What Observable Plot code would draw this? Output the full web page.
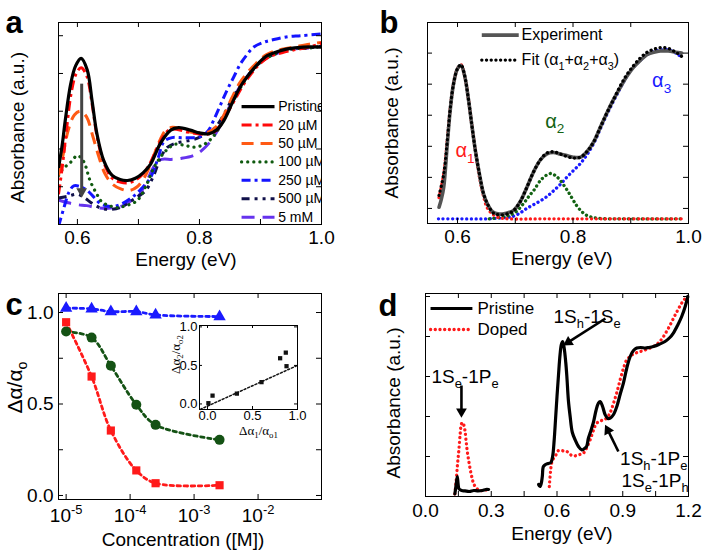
<!DOCTYPE html>
<html><head><meta charset="utf-8">
<script src="https://cdn.jsdelivr.net/npm/d3@7"></script>
<script src="https://cdn.jsdelivr.net/npm/@observablehq/plot@0.6"></script>
<style>
html,body{margin:0;padding:0;background:#fff}
#root{position:relative;width:706px;height:552px;overflow:hidden;background:#fff;font-family:"Liberation Sans",Arial,sans-serif}
#root > div{position:absolute}
</style></head><body><div id="root">
<div id="pa" style="left:0;top:0"></div>
<div id="pb" style="left:353px;top:0"></div>
<div id="pc" style="left:0;top:276px"></div>
<div id="pd" style="left:353px;top:276px"></div>
<div id="pi" style="left:160px;top:318px"></div>
</div>
<script>
// ---------------- DATA ----------------
// Panel a : absorbance vs energy (eV) for increasing dopant concentration
const a_pristine = [[0.569,0.30],[0.575,0.42],[0.580,0.55],[0.589,0.745],[0.597,0.84],[0.606,0.88],[0.616,0.82],[0.624,0.656],[0.632,0.48],[0.643,0.34],[0.657,0.26],[0.670,0.238],[0.682,0.233],[0.695,0.245],[0.708,0.275],[0.720,0.32],[0.736,0.43],[0.753,0.50],[0.766,0.513],[0.785,0.50],[0.800,0.485],[0.815,0.48],[0.828,0.50],[0.840,0.55],[0.856,0.66],[0.868,0.735],[0.884,0.806],[0.897,0.855],[0.911,0.894],[0.927,0.915],[0.944,0.93],[0.970,0.94],[1.0,0.94]];
const a_20uM = [[0.569,0.16],[0.575,0.30],[0.582,0.50],[0.590,0.70],[0.598,0.80],[0.606,0.83],[0.615,0.79],[0.624,0.64],[0.632,0.47],[0.643,0.33],[0.657,0.245],[0.670,0.225],[0.682,0.22],[0.695,0.235],[0.708,0.27],[0.720,0.33],[0.736,0.44],[0.750,0.50],[0.762,0.505],[0.780,0.49],[0.800,0.48],[0.815,0.48],[0.828,0.50],[0.840,0.56],[0.856,0.65],[0.870,0.73],[0.885,0.80],[0.900,0.855],[0.915,0.89],[0.935,0.91],[0.955,0.925],[0.980,0.94],[1.0,0.96]];
const a_50uM = [[0.569,0.26],[0.576,0.36],[0.585,0.50],[0.595,0.58],[0.605,0.60],[0.615,0.57],[0.625,0.47],[0.635,0.36],[0.645,0.27],[0.657,0.215],[0.670,0.19],[0.685,0.18],[0.698,0.20],[0.710,0.25],[0.720,0.32],[0.733,0.43],[0.745,0.50],[0.756,0.515],[0.770,0.505],[0.785,0.49],[0.800,0.485],[0.815,0.49],[0.828,0.52],[0.840,0.58],[0.853,0.67],[0.866,0.75],[0.880,0.81],[0.895,0.86],[0.910,0.90],[0.930,0.925],[0.955,0.94],[0.980,0.955],[1.0,0.965]];
const a_100uM = [[0.569,0.26],[0.575,0.29],[0.589,0.33],[0.600,0.365],[0.610,0.335],[0.621,0.23],[0.632,0.16],[0.640,0.12],[0.652,0.10],[0.665,0.09],[0.680,0.10],[0.698,0.127],[0.714,0.216],[0.725,0.30],[0.736,0.356],[0.748,0.40],[0.760,0.425],[0.775,0.42],[0.790,0.41],[0.805,0.42],[0.818,0.45],[0.830,0.50],[0.843,0.58],[0.856,0.66],[0.870,0.74],[0.885,0.81],[0.900,0.86],[0.915,0.89],[0.935,0.915],[0.955,0.93],[0.980,0.935],[1.0,0.945]];
const a_250uM = [[0.569,-0.01],[0.578,0.09],[0.586,0.17],[0.594,0.205],[0.605,0.20],[0.616,0.18],[0.627,0.145],[0.638,0.11],[0.654,0.095],[0.670,0.105],[0.690,0.145],[0.705,0.19],[0.720,0.25],[0.732,0.35],[0.742,0.44],[0.755,0.46],[0.770,0.46],[0.790,0.46],[0.805,0.47],[0.815,0.50],[0.823,0.55],[0.834,0.63],[0.845,0.71],[0.856,0.78],[0.867,0.85],[0.878,0.90],[0.889,0.94],[0.905,0.965],[0.922,0.98],[0.945,0.995],[0.966,1.0],[1.0,1.01]];
const a_500uM = [[0.569,0.14],[0.585,0.15],[0.600,0.16],[0.612,0.14],[0.625,0.11],[0.640,0.085],[0.655,0.08],[0.670,0.09],[0.688,0.125],[0.700,0.15],[0.712,0.18],[0.725,0.26],[0.737,0.36],[0.748,0.41],[0.760,0.43],[0.775,0.44],[0.790,0.45],[0.805,0.47],[0.818,0.49],[0.830,0.53],[0.843,0.60],[0.856,0.68],[0.870,0.75],[0.885,0.81],[0.900,0.86],[0.915,0.89],[0.935,0.92],[0.955,0.93],[0.980,0.935],[1.0,0.945]];
const a_5mM = [[0.569,0.13],[0.585,0.115],[0.600,0.105],[0.615,0.10],[0.630,0.09],[0.645,0.085],[0.660,0.09],[0.675,0.10],[0.690,0.13],[0.700,0.15],[0.714,0.233],[0.728,0.32],[0.738,0.345],[0.755,0.345],[0.770,0.35],[0.790,0.365],[0.803,0.39],[0.818,0.44],[0.830,0.50],[0.843,0.58],[0.856,0.67],[0.870,0.75],[0.885,0.81],[0.900,0.86],[0.915,0.89],[0.935,0.915],[0.955,0.93],[0.980,0.935],[1.0,0.945]];
const a_labels = ["Pristine","20 µM","50 µM","100 µM","250 µM","500 µM","5 mM"];

// Panel b : experiment, fit and its three components
const b_experiment = [[0.568,0.008],[0.572,0.06],[0.576,0.135],[0.582,0.40],[0.587,0.62],[0.593,0.80],[0.600,0.90],[0.606,0.92],[0.612,0.86],[0.619,0.70],[0.625,0.53],[0.631,0.37],[0.638,0.22],[0.645,0.095],[0.653,0.02],[0.662,-0.025],[0.670,-0.035],[0.680,-0.035],[0.690,-0.025],[0.697,-0.013],[0.708,0.04],[0.720,0.135],[0.731,0.23],[0.743,0.31],[0.754,0.35],[0.766,0.36],[0.778,0.35],[0.789,0.34],[0.800,0.33],[0.813,0.33],[0.825,0.37],[0.836,0.43],[0.847,0.52],[0.858,0.61],[0.870,0.70],[0.882,0.78],[0.893,0.85],[0.905,0.91],[0.917,0.955],[0.928,0.99],[0.940,1.005],[0.951,1.013],[0.965,1.013],[0.978,1.005],[0.988,1.0]];
const b_fit = [[0.568,0.084],[0.576,0.22],[0.582,0.43],[0.587,0.63],[0.593,0.80],[0.600,0.90],[0.606,0.925],[0.612,0.86],[0.619,0.70],[0.625,0.53],[0.631,0.37],[0.638,0.22],[0.645,0.095],[0.653,0.02],[0.662,-0.03],[0.670,-0.04],[0.680,-0.04],[0.690,-0.03],[0.697,-0.015],[0.708,0.04],[0.720,0.135],[0.731,0.23],[0.743,0.31],[0.754,0.355],[0.766,0.365],[0.778,0.35],[0.789,0.335],[0.800,0.325],[0.813,0.33],[0.825,0.37],[0.836,0.43],[0.847,0.52],[0.858,0.61],[0.870,0.70],[0.882,0.79],[0.893,0.86],[0.905,0.92],[0.917,0.97],[0.928,1.005],[0.940,1.025],[0.952,1.035],[0.965,1.03],[0.978,1.005],[0.989,0.976]];
const b_alpha1 = [[0.568,0.07],[0.576,0.22],[0.582,0.43],[0.587,0.63],[0.593,0.80],[0.600,0.90],[0.606,0.925],[0.612,0.86],[0.619,0.70],[0.625,0.53],[0.631,0.37],[0.638,0.20],[0.645,0.08],[0.651,0.008],[0.660,-0.035],[0.672,-0.06],[0.690,-0.067],[0.750,-0.067],[0.850,-0.067],[0.989,-0.067]];
const b_alpha2 = [[0.655,-0.067],[0.685,-0.05],[0.700,-0.025],[0.714,0.03],[0.724,0.08],[0.732,0.116],[0.746,0.19],[0.761,0.225],[0.770,0.21],[0.778,0.18],[0.792,0.105],[0.806,0.02],[0.815,-0.02],[0.824,-0.045],[0.840,-0.062],[0.900,-0.067],[0.989,-0.067]];
const b_alpha3 = [[0.567,-0.067],[0.600,-0.067],[0.650,-0.067],[0.680,-0.06],[0.697,-0.05],[0.710,-0.025],[0.720,0.0],[0.732,0.025],[0.744,0.05],[0.756,0.08],[0.767,0.116],[0.778,0.155],[0.789,0.2],[0.801,0.245],[0.813,0.29],[0.825,0.35],[0.836,0.42],[0.847,0.51],[0.858,0.60],[0.870,0.69],[0.882,0.775],[0.893,0.85],[0.905,0.91],[0.917,0.955],[0.928,0.99],[0.940,1.01],[0.952,1.02],[0.965,1.02],[0.978,1.0],[0.989,0.97]];

// Panel c : normalised bleach vs concentration (M)
const c_conc = [1e-5, 2.5e-5, 5e-5, 1.25e-4, 2.5e-4, 2.5e-3];
const c_alpha1 = [0.947, 0.65, 0.355, 0.137, 0.067, 0.056];
const c_alpha2 = [0.896, 0.863, 0.709, 0.496, 0.386, 0.304];
const c_alpha3 = [1.024, 1.02, 1.005, 1.005, 0.987, 0.978];
// inset
const i_x = [0.01, 0.056, 0.326, 0.60, 0.807, 0.87, 0.878];
const i_y = [0.01, 0.108, 0.134, 0.283, 0.593, 0.666, 0.49];
const i_lineX = [-0.08, 1.0];
const i_lineY = [-0.07, 0.5];

// Panel d : pristine vs doped, wide energy range
const d_pristineLow = [[0.134,0.013],[0.140,0.06],[0.145,0.10],[0.149,0.06],[0.153,0.038],[0.165,0.03],[0.180,0.028],[0.200,0.025],[0.220,0.03],[0.240,0.028],[0.260,0.03],[0.275,0.035],[0.288,0.035]];
const d_pristineHigh = [[0.516,0.06],[0.522,0.05],[0.528,0.065],[0.533,0.10],[0.538,0.15],[0.548,0.16],[0.560,0.165],[0.572,0.17],[0.580,0.20],[0.587,0.28],[0.593,0.38],[0.600,0.50],[0.607,0.61],[0.614,0.71],[0.620,0.76],[0.626,0.775],[0.633,0.74],[0.640,0.67],[0.645,0.60],[0.652,0.48],[0.660,0.40],[0.670,0.32],[0.683,0.283],[0.698,0.25],[0.713,0.233],[0.725,0.24],[0.735,0.25],[0.743,0.29],[0.751,0.317],[0.766,0.37],[0.778,0.43],[0.789,0.467],[0.797,0.475],[0.808,0.45],[0.820,0.408],[0.832,0.39],[0.843,0.392],[0.858,0.41],[0.873,0.45],[0.888,0.51],[0.903,0.567],[0.918,0.64],[0.934,0.70],[0.949,0.73],[0.964,0.742],[0.982,0.745],[1.002,0.742],[1.020,0.745],[1.040,0.75],[1.065,0.76],[1.093,0.775],[1.115,0.795],[1.131,0.817],[1.150,0.855],[1.169,0.90],[1.185,0.95],[1.197,1.0]];
const d_dopedLow = [[0.134,0.013],[0.140,0.08],[0.146,0.16],[0.152,0.23],[0.158,0.31],[0.163,0.36],[0.168,0.37],[0.174,0.36],[0.180,0.33],[0.185,0.28],[0.190,0.23],[0.197,0.18],[0.205,0.13],[0.213,0.09],[0.220,0.063],[0.234,0.04],[0.248,0.03],[0.265,0.03],[0.286,0.035]];
const d_dopedHigh = [[0.565,0.05],[0.570,0.12],[0.576,0.17],[0.584,0.19],[0.592,0.20],[0.600,0.22],[0.607,0.23],[0.620,0.23],[0.635,0.226],[0.645,0.225],[0.660,0.21],[0.675,0.203],[0.690,0.205],[0.705,0.21],[0.721,0.217],[0.736,0.245],[0.751,0.283],[0.766,0.33],[0.781,0.367],[0.795,0.375],[0.804,0.38],[0.815,0.385],[0.827,0.392],[0.843,0.42],[0.858,0.467],[0.873,0.52],[0.888,0.583],[0.903,0.64],[0.918,0.683],[0.934,0.70],[0.949,0.713],[0.972,0.722],[0.995,0.73],[1.020,0.74],[1.040,0.75],[1.065,0.77],[1.086,0.80],[1.110,0.845],[1.131,0.89],[1.150,0.93],[1.169,0.967],[1.192,1.0]];

// ---------------- HELPERS ----------------
const FONT = '"Liberation Sans", Arial, sans-serif';
const SVGNS = "http://www.w3.org/2000/svg";
function richify(root) {
  root.querySelectorAll("text").forEach(t => {
    const els = t.querySelector("tspan") ? Array.from(t.querySelectorAll("tspan")) : [t];
    els.forEach(el => {
      const s = el.textContent;
      if (!/[_^]/.test(s)) return;
      const fs = parseFloat(getComputedStyle(el).fontSize) || 16;
      while (el.firstChild) el.removeChild(el.firstChild);
      const re = /([_^])\{([^}]*)\}|([_^])(.)|([^_^]+)/g;
      let m, shift = 0;
      while ((m = re.exec(s))) {
        const ts = document.createElementNS(SVGNS, "tspan");
        if (m[5] !== undefined) {
          ts.textContent = m[5];
          if (shift) ts.setAttribute("dy", (-shift).toFixed(2));
          shift = 0;
        } else {
          const kind = m[1] || m[3];
          const txt = m[2] !== undefined ? m[2] : m[4];
          const target = kind === "_" ? fs * 0.28 : -fs * 0.42;
          ts.setAttribute("dy", (target - shift).toFixed(2));
          ts.setAttribute("font-size", (fs * 0.68).toFixed(2));
          shift = target;
          ts.textContent = txt;
        }
        el.appendChild(ts);
      }
    });
  });
}
function boxTicks(xt, yt, fw, fh, len = 5) {
  const o = {stroke: "black", strokeWidth: 1};
  return [
    Plot.tickX(xt, {x: d => d, insetTop: fh - len, ...o}),
    Plot.tickX(xt, {x: d => d, insetBottom: fh - len, ...o}),
    Plot.tickY(yt, {y: d => d, insetRight: fw - len, ...o}),
    Plot.tickY(yt, {y: d => d, insetLeft: fw - len, ...o})
  ];
}
const XY = {x: d => d[0], y: d => d[1]};
function mount(id, svg) { document.getElementById(id).appendChild(svg); richify(svg); }
function head(data, opts) { return Plot.dot(data, {x: "x2", y: "y2", symbol: "triangle", r: 4, rotate: "rot", ...opts}); }
const ylab = {frameAnchor: "left", rotate: -90, lineAnchor: "bottom", textAnchor: "middle"};

// ---------------- PANEL A ----------------
{
  const series = [
    {data: a_pristine, stroke: "#000000", dash: null, w: 3.2},
    {data: a_20uM, stroke: "#ff0a0a", dash: "10,4,3,4", w: 3},
    {data: a_50uM, stroke: "#ff5a14", dash: "12,7", w: 3},
    {data: a_100uM, stroke: "#0f5a0f", dash: "0.1,6", w: 3.2, cap: "round"},
    {data: a_250uM, stroke: "#1414ff", dash: "9,4,3,4", w: 3},
    {data: a_500uM, stroke: "#10104a", dash: "8,5,3,5,3,5", w: 3},
    {data: a_5mM, stroke: "#6633ee", dash: "13,8", w: 3}
  ];
  const fw = 263, fh = 202;
  const marks = [];
  series.slice().reverse().forEach(s => marks.push(Plot.line(s.data, {...XY, curve: "catmull-rom", stroke: s.stroke, strokeWidth: s.w, strokeDasharray: s.dash, strokeLinecap: s.cap || "butt", clip: true})));
  series.forEach((s, i) => marks.push(Plot.link([0], {x1: () => 0.869, x2: () => 0.923, y1: () => 0.624 - i * 0.0975, y2: () => 0.624 - i * 0.0975, stroke: s.stroke, strokeWidth: s.w, strokeDasharray: s.dash, strokeLinecap: s.cap || "butt"})));
  marks.push(Plot.text(a_labels, {x: () => 0.929, y: (d, i) => 0.624 - i * 0.0975, text: d => d, textAnchor: "start", lineAnchor: "middle", fontSize: 14, clip: true}));
  const arrowA = [{x1: 0.607, y1: 0.746, x2: 0.607, y2: 0.175, rot: 180}];
  marks.push(Plot.link(arrowA, {x1: "x1", y1: "y1", x2: "x2", y2: "y2", stroke: "#444", strokeWidth: 3}));
  marks.push(head(arrowA, {fill: "#444"}));
  marks.push(...boxTicks([0.6, 0.7, 0.8, 0.9, 1.0], [0.2, 0.4, 0.6, 0.8, 1.0], fw, fh));
  marks.push(Plot.frame({stroke: "black"}));
  marks.push(Plot.axisX([0.6, 0.8, 1.0], {tickSize: 0, tickPadding: 6, tickFormat: d3.format(".1f"), label: null}));
  marks.push(Plot.text(["Energy (eV)"], {frameAnchor: "bottom", dx: -4, dy: 41, lineAnchor: "bottom", fontSize: 19}));
  marks.push(Plot.text(["Absorbance (a.u.)"], {...ylab, dx: -35, dy: 4, fontSize: 19}));
  marks.push(Plot.text(["a"], {frameAnchor: "top-left", dx: -53, dy: 10, textAnchor: "start", lineAnchor: "bottom", fontSize: 31, fontWeight: "bold"}));
  mount("pa", Plot.plot({width: 353, height: 276, marginLeft: 58, marginRight: 32, marginTop: 22, marginBottom: 52,
    x: {domain: [0.569, 1.0]}, y: {domain: [0, 1.07], axis: null},
    style: {fontFamily: FONT, fontSize: "19px", color: "black", background: "white", overflow: "visible"}, marks}));
}

// ---------------- PANEL B ----------------
{
  const fw = 261, fh = 201;
  const dot = {strokeDasharray: "0.1,4.6", strokeLinecap: "round", strokeWidth: 3.3, curve: "catmull-rom", clip: true};
  const marks = [
    Plot.line(b_alpha3, {...XY, ...dot, stroke: "#1a1aff"}),
    Plot.line(b_alpha2, {...XY, ...dot, stroke: "#136313"}),
    Plot.line(b_alpha1, {...XY, ...dot, stroke: "#ff1a1a"}),
    Plot.line(b_experiment, {...XY, curve: "catmull-rom", stroke: "#555555", strokeWidth: 3.6, strokeLinecap: "round", clip: true}),
    Plot.line(b_fit, {...XY, ...dot, stroke: "#000000"}),
    Plot.link([0], {x1: () => 0.642, x2: () => 0.706, y1: () => 1.116, y2: () => 1.116, stroke: "#555555", strokeWidth: 3.6}),
    Plot.link([0], {x1: () => 0.642, x2: () => 0.706, y1: () => 0.955, y2: () => 0.955, stroke: "#000", strokeWidth: 3.3, strokeDasharray: "0.1,4.6", strokeLinecap: "round"}),
    Plot.text(["Experiment", "Fit (α_1+α_2+α_3)"], {x: () => 0.711, y: (d, i) => i ? 0.955 : 1.116, text: d => d, textAnchor: "start", lineAnchor: "middle", fontSize: 16}),
    Plot.text(["α_1"], {x: () => 0.5965, y: () => 0.33, text: d => d, textAnchor: "start", lineAnchor: "bottom", fontSize: 20, fill: "#ff1a1a"}),
    Plot.text(["α_2"], {x: () => 0.752, y: () => 0.52, text: d => d, textAnchor: "start", lineAnchor: "bottom", fontSize: 20, fill: "#136313"}),
    Plot.text(["α_3"], {x: () => 0.937, y: () => 0.78, text: d => d, textAnchor: "start", lineAnchor: "bottom", fontSize: 20, fill: "#1a1aff"}),
    ...boxTicks([0.6, 0.7, 0.8, 0.9, 1.0], [0, 0.2, 0.4, 0.6, 0.8, 1.0], fw, fh),
    Plot.frame({stroke: "black"}),
    Plot.axisX([0.6, 0.8, 1.0], {tickSize: 0, tickPadding: 6, tickFormat: d3.format(".1f"), label: null}),
    Plot.text(["Energy (eV)"], {frameAnchor: "bottom", dx: 4, dy: 41, lineAnchor: "bottom", fontSize: 19}),
    Plot.text(["Absorbance (a.u.)"], {...ylab, dx: -30, dy: 0, fontSize: 19}),
    Plot.text(["b"], {frameAnchor: "top-left", dx: -48, dy: 10, textAnchor: "start", lineAnchor: "bottom", fontSize: 31, fontWeight: "bold"})
  ];
  mount("pb", Plot.plot({width: 353, height: 276, marginLeft: 74, marginRight: 18, marginTop: 22, marginBottom: 53,
    x: {domain: [0.548, 1.0]}, y: {domain: [-0.097, 1.197], axis: null},
    style: {fontFamily: FONT, fontSize: "19px", color: "black", background: "white", overflow: "visible"}, marks}));
}

// ---------------- PANEL C ----------------
{
  const fw = 263, fh = 206;
  const pts = (ys) => c_conc.map((c, i) => [c, ys[i]]);
  const ln = {...XY, curve: "catmull-rom", strokeDasharray: "3.5,3.5", strokeWidth: 2.8};
  const marks = [
    Plot.line(pts(c_alpha3), {...ln, stroke: "#1a1aff"}),
    Plot.line(pts(c_alpha2), {...ln, stroke: "#145214"}),
    Plot.line(pts(c_alpha1), {...ln, stroke: "#ff1a1a"}),
    Plot.dot(pts(c_alpha3), {...XY, symbol: "triangle", r: 4.6, fill: "#1a1aff"}),
    Plot.dot(pts(c_alpha2), {...XY, symbol: "circle", r: 5, fill: "#145214"}),
    Plot.dot(pts(c_alpha1), {...XY, symbol: "square", r: 4.6, fill: "#ff1a1a"}),
    ...boxTicks([1e-5, 1e-4, 1e-3, 1e-2], [0, 0.25, 0.5, 0.75, 1.0], fw, fh),
    Plot.frame({stroke: "black"}),
    Plot.axisX([1e-5, 1e-4, 1e-3, 1e-2], {tickSize: 0, tickPadding: 9, tickFormat: d => "10^{" + Math.round(Math.log10(d)) + "}", label: null}),
    Plot.axisY([0, 0.5, 1.0], {tickSize: 0, tickPadding: 5, tickFormat: d3.format(".1f"), label: null}),
    Plot.text(["Concentration ([M])"], {frameAnchor: "bottom", dx: -7, dy: 46, lineAnchor: "bottom", fontSize: 19}),
    Plot.text(["Δα/α_o"], {...ylab, dx: -37, dy: -9, fontSize: 21}),
    Plot.text(["c"], {frameAnchor: "top-left", dx: -53, dy: 21, textAnchor: "start", lineAnchor: "bottom", fontSize: 31, fontWeight: "bold"})
  ];
  mount("pc", Plot.plot({width: 353, height: 276, marginLeft: 58, marginRight: 32, marginTop: 17, marginBottom: 53,
    x: {type: "log", domain: [7.6e-6, 0.098]}, y: {domain: [-0.022, 1.104]},
    style: {fontFamily: FONT, fontSize: "19px", color: "black", background: "white", overflow: "visible"}, marks}));
}

// ---------------- INSET ----------------
{
  const fw = 98, fh = 84;
  const marks = [
    Plot.line(i_lineX.map((x, i) => [x, i_lineY[i]]), {...XY, stroke: "#111", strokeWidth: 1.5, strokeDasharray: "2,2"}),
    Plot.dot(i_x.map((x, i) => [x, i_y[i]]), {...XY, symbol: "square", r: 2.4, fill: "#111"}),
    ...boxTicks([0, 0.5, 1.0], [0, 0.5, 1.0], fw, fh, 3),
    Plot.frame({stroke: "black"}),
    Plot.axisX([0, 0.5, 1.0], {tickSize: 0, tickPadding: 1, tickFormat: d3.format(".1f"), label: null, fontSize: 13}),
    Plot.axisY([0, 0.5, 1.0], {tickSize: 0, tickPadding: 2, tickFormat: d3.format(".1f"), label: null, fontSize: 13}),
    Plot.text(["Δα_1/α_{o1}"], {frameAnchor: "bottom", dx: 10, dy: 25, lineAnchor: "bottom", fontSize: 13, fontFamily: '"Liberation Serif", serif'}),
    Plot.text(["Δα_2/α_{o2}"], {...ylab, dx: -20, dy: -13, fontSize: 13, fontFamily: '"Liberation Serif", serif'})
  ];
  mount("pi", Plot.plot({width: 145, height: 125, marginLeft: 39, marginRight: 8, marginTop: 7, marginBottom: 34,
    x: {domain: [-0.089, 1.0]}, y: {domain: [-0.072, 1.018]},
    style: {fontFamily: FONT, fontSize: "13px", color: "black", background: "transparent", overflow: "visible"}, marks}));
}

// ---------------- PANEL D ----------------
{
  const fw = 263, fh = 203;
  const black = {...XY, curve: "catmull-rom", stroke: "#000", strokeWidth: 3.2};
  const red = {...XY, curve: "catmull-rom", stroke: "#ff1a1a", strokeWidth: 3.3, strokeDasharray: "0.1,4.6", strokeLinecap: "round"};
  const dArrows = [
    {x1: 0.821, y1: 0.89, x2: 0.652, y2: 0.7715, rot: 237},
    {x1: 0.164, y1: 0.555, x2: 0.164, y2: 0.425, rot: 180},
    {x1: 0.880, y1: 0.225, x2: 0.832, y2: 0.3315, rot: -26.5}
  ];
  const lab = {textAnchor: "start", lineAnchor: "bottom", fontSize: 19, text: d => d};
  const marks = [
    Plot.line(d_dopedLow, red),
    Plot.line(d_dopedHigh, red),
    Plot.line(d_pristineLow, black),
    Plot.line(d_pristineHigh, black),
    Plot.link(dArrows, {x1: "x1", y1: "y1", x2: "x2", y2: "y2", stroke: "#000", strokeWidth: 2.6}),
    head(dArrows, {fill: "#000"}),
    Plot.text(["1S_h-1S_e"], {x: () => 0.584, y: () => 0.87, ...lab}),
    Plot.text(["1S_e-1P_e"], {x: () => 0.027, y: () => 0.57, ...lab}),
    Plot.text(["1S_h-1P_e"], {x: () => 0.888, y: () => 0.16, ...lab}),
    Plot.text(["1S_e-1P_h"], {x: () => 0.894, y: () => 0.05, ...lab}),
    Plot.link([0], {x1: () => 0.023, x2: () => 0.214, y1: () => 0.94, y2: () => 0.94, stroke: "#000", strokeWidth: 3.2}),
    Plot.link([0], {x1: () => 0.023, x2: () => 0.214, y1: () => 0.835, y2: () => 0.835, stroke: "#ff1a1a", strokeWidth: 3.3, strokeDasharray: "0.1,4.6", strokeLinecap: "round"}),
    Plot.text(["Pristine", "Doped"], {x: () => 0.237, y: (d, i) => i ? 0.835 : 0.94, text: d => d, textAnchor: "start", lineAnchor: "middle", fontSize: 17}),
    ...boxTicks([0, 0.15, 0.3, 0.45, 0.6, 0.75, 0.9, 1.05, 1.2], [0.2, 0.4, 0.6, 0.8, 1.0], fw, fh),
    Plot.frame({stroke: "black"}),
    Plot.axisX([0, 0.3, 0.6, 0.9, 1.2], {tickSize: 0, tickPadding: 7, tickFormat: d3.format(".1f"), label: null}),
    Plot.text(["Energy (eV)"], {frameAnchor: "bottom", dx: 5, dy: 43, lineAnchor: "bottom", fontSize: 19}),
    Plot.text(["Absorbance (a.u.)"], {...ylab, dx: -26, dy: 8, fontSize: 19}),
    Plot.text(["d"], {frameAnchor: "top-left", dx: -47, dy: 22, textAnchor: "start", lineAnchor: "bottom", fontSize: 31, fontWeight: "bold"})
  ];
  mount("pd", Plot.plot({width: 353, height: 276, marginLeft: 72, marginRight: 18, marginTop: 17, marginBottom: 56,
    x: {domain: [0, 1.2]}, y: {domain: [0, 1.015], axis: null},
    style: {fontFamily: FONT, fontSize: "19px", color: "black", background: "white", overflow: "visible"}, marks}));
}
</script></body></html>
